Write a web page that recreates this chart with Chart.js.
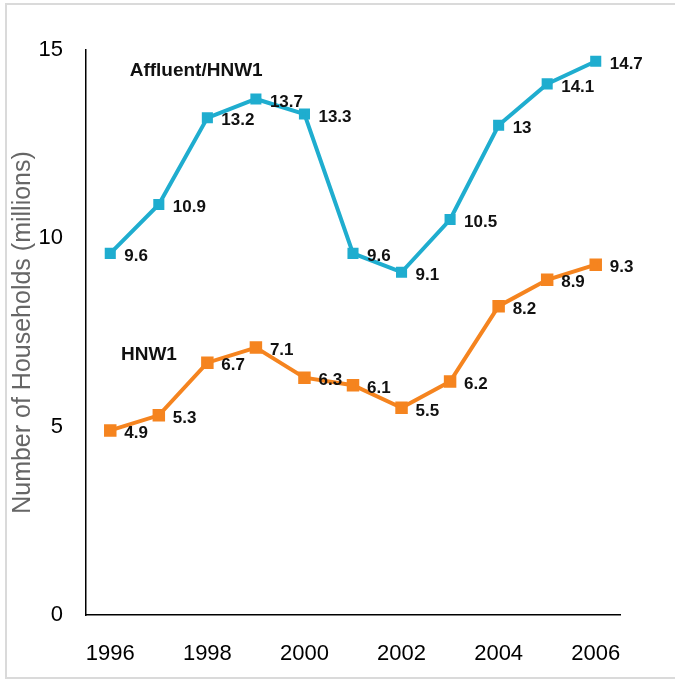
<!DOCTYPE html>
<html>
<head>
<meta charset="utf-8">
<script src="https://cdn.jsdelivr.net/npm/chart.js@4"></script>
<style>
  html, body { margin: 0; padding: 0; background: #fff; overflow: hidden; }
  #wrap { position: relative; width: 675px; height: 687px; }
  #frame { position: absolute; left: 5px; top: 3px; width: 690px; height: 676px; border: 2px solid #dadada; box-sizing: border-box; pointer-events: none; }
</style>
</head>
<body>
<div id="wrap">
  <canvas id="households" width="675" height="687"></canvas>
  <div id="frame"></div>
</div>
<script>
const years = ['1996', '1997', '1998', '1999', '2000', '2001', '2002', '2003', '2004', '2005', '2006'];
const affluent = [9.6, 10.9, 13.2, 13.7, 13.3, 9.6, 9.1, 10.5, 13, 14.1, 14.7];
const hnw = [4.9, 5.3, 6.7, 7.1, 6.3, 6.1, 5.5, 6.2, 8.2, 8.9, 9.3];
const yTicks = [0, 5, 10, 15];

// series names written inside the plot
const seriesNames = [
  { text: 'Affluent/HNW1', x: 0.4, y: 14.45 },
  { text: 'HNW1', x: 0.22, y: 6.9 }
];

const FONT = '"Liberation Sans", Arial, sans-serif';

const valueLabels = {
  id: 'valueLabels',
  afterDatasetsDraw(chart) {
    const ctx = chart.ctx;
    ctx.save();
    ctx.fillStyle = '#111';
    ctx.font = 'bold 17px ' + FONT;
    ctx.textAlign = 'left';
    ctx.textBaseline = 'middle';
    chart.data.datasets.forEach((ds, i) => {
      chart.getDatasetMeta(i).data.forEach((pt, j) => {
        ctx.fillText(String(ds.data[j]), pt.x + 14, pt.y + 3);
      });
    });
    ctx.font = 'bold 19px ' + FONT;
    const xs = chart.scales.x, ys = chart.scales.y;
    seriesNames.forEach(s => {
      ctx.fillText(s.text, xs.getPixelForValue(s.x), ys.getPixelForValue(s.y));
    });
    ctx.restore();
  }
};

new Chart(document.getElementById('households'), {
  type: 'line',
  data: {
    labels: years,
    datasets: [{
      label: 'Affluent/HNW1',
      data: affluent,
      borderColor: '#1fadcf',
      backgroundColor: '#1fadcf',
      borderWidth: 4,
      pointStyle: 'rect',
      pointRadius: 5,
      tension: 0
    }, {
      label: 'HNW1',
      data: hnw,
      borderColor: '#f5841f',
      backgroundColor: '#f5841f',
      borderWidth: 4,
      pointStyle: 'rect',
      pointRadius: 6,
      tension: 0
    }]
  },
  options: {
    responsive: false,
    animation: false,
    events: [],
    layout: { padding: { left: 0, right: 55, top: 50, bottom: 0 } },
    plugins: { legend: { display: false }, tooltip: { enabled: false } },
    scales: {
      x: {
        offset: true,
        grid: { display: false, drawTicks: false },
        border: { display: true, color: '#000', width: 1.5 },
        ticks: {
          autoSkip: false,
          maxRotation: 0,
          padding: 26,
          color: '#000',
          font: { size: 22, family: FONT },
          callback: (v, i) => (i % 2 === 0 ? years[i] : '')
        },
        afterFit: s => { s.height = 72; }
      },
      y: {
        min: 0,
        max: 15,
        grid: { display: false, drawTicks: false },
        border: { display: true, color: '#000', width: 1.5 },
        afterBuildTicks: s => { s.ticks = yTicks.map(v => ({ value: v })); },
        ticks: {
          padding: 23,
          color: '#000',
          font: { size: 22, family: FONT }
        },
        title: {
          display: true,
          text: 'Number of Households (millions)',
          color: '#666',
          padding: { top: 8, bottom: 0 },
          font: { size: 25, family: FONT }
        },
        afterFit: s => { s.width = 86; }
      }
    }
  },
  plugins: [valueLabels]
});
</script>
</body>
</html>
